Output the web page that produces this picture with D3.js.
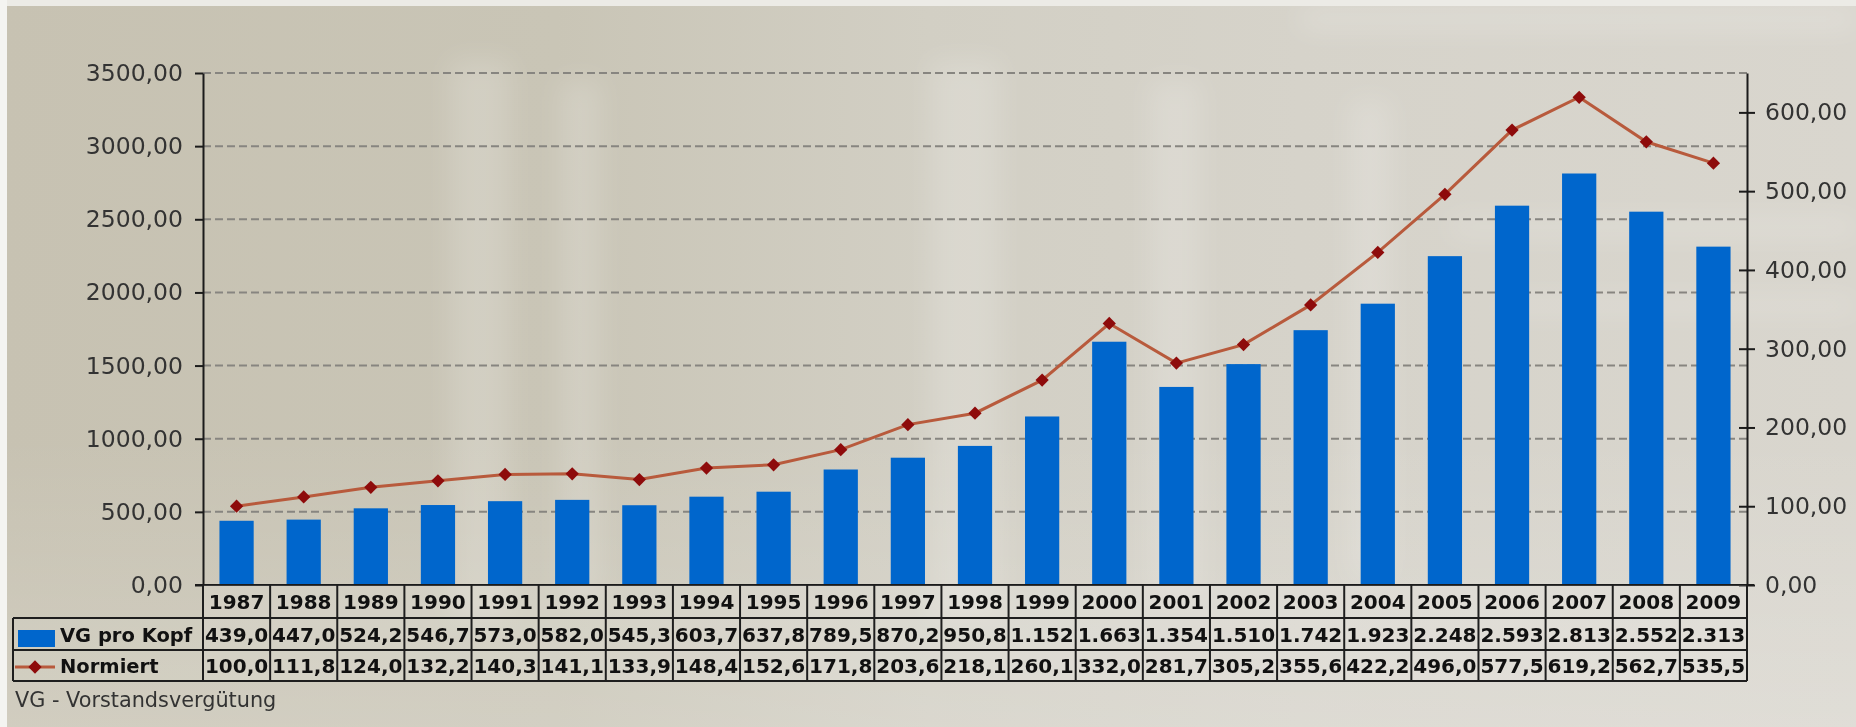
<!DOCTYPE html>
<html><head><meta charset="utf-8">
<script src="https://cdn.jsdelivr.net/npm/d3@7"></script>
<style>html,body{margin:0;padding:0;background:#cfcbbd;} svg{display:block;}</style>
</head><body><svg id="c" width="1856" height="727"></svg>
<script>
const years = ["1987","1988","1989","1990","1991","1992","1993","1994","1995","1996","1997","1998","1999","2000","2001","2002","2003","2004","2005","2006","2007","2008","2009"];
const vgProKopf = [439.0,447.0,524.2,546.7,573.0,582.0,545.3,603.7,637.8,789.5,870.2,950.8,1152,1663,1354,1510,1742,1923,2248,2593,2813,2552,2313];
const normiert = [100.0,111.8,124.0,132.2,140.3,141.1,133.9,148.4,152.6,171.8,203.6,218.1,260.1,332.0,281.7,305.2,355.6,422.2,496.0,577.5,619.2,562.7,535.5];
const leftTicks = [0,500,1000,1500,2000,2500,3000,3500];
const rightTicks = [0,100,200,300,400,500,600];
const leftMax = 3500, rightMax = 650;
const seriesNames = ["VG pro Kopf","Normiert"];
const footnote = "VG - Vorstandsvergütung";

const W = 1856, H = 727;
const x0 = 203, x1 = 1747, yTop = 73, yBase = 585;
const rowY = [585, 618, 650, 681];
const legendLeft = 13;

const loc = d3.formatLocale({decimal: ",", thousands: ".", grouping: [3], currency: ["", ""]});
const axisFmt = loc.format(".2f");
const valFmt = v => v >= 1000 ? loc.format(",.0f")(v) : loc.format(",.1f")(v);

const svg = d3.select("#c");
const defs = svg.append("defs");
const g1 = defs.append("linearGradient").attr("id","bg").attr("x1","0").attr("x2","1").attr("y1","0").attr("y2","0");
[["0%","#c7c2b2"],["30%","#c9c5b6"],["50%","#d2cfc4"],["70%","#d6d3ca"],["100%","#d9d6ce"]].forEach(s=>g1.append("stop").attr("offset",s[0]).attr("stop-color",s[1]));
const g2 = defs.append("linearGradient").attr("id","bgv").attr("x1","0").attr("x2","0").attr("y1","0").attr("y2","1");
[["0%","#ffffff",0.0],["60%","#ffffff",0.0],["100%","#ffffff",0.18]].forEach(s=>g2.append("stop").attr("offset",s[0]).attr("stop-color",s[1]).attr("stop-opacity",s[2]));
defs.append("filter").attr("id","blur").attr("x","-50%").attr("y","-50%").attr("width","200%").attr("height","200%")
  .append("feGaussianBlur").attr("stdDeviation", 14);

svg.append("rect").attr("width",W).attr("height",H).attr("fill","url(#bg)");
svg.append("rect").attr("width",W).attr("height",H).attr("fill","url(#bgv)");
const streaks = [[450,60,60,560],[560,80,40,520],[930,60,70,560],[1150,80,50,520],[1350,100,40,480]];
svg.append("g").attr("filter","url(#blur)").selectAll("rect").data(streaks).join("rect")
  .attr("x",d=>d[0]).attr("y",d=>d[1]).attr("width",d=>d[2]).attr("height",d=>d[3])
  .attr("fill","#ffffff").attr("opacity",0.18);
const hstreaks = [[1300,10,556,18],[1450,220,406,14],[1500,300,356,12]];
svg.append("g").attr("filter","url(#blur)").selectAll("rect").data(hstreaks).join("rect")
  .attr("x",d=>d[0]).attr("y",d=>d[1]).attr("width",d=>d[2]).attr("height",d=>d[3])
  .attr("fill","#ffffff").attr("opacity",0.25);
svg.append("rect").attr("x",0).attr("y",0).attr("width",W).attr("height",6).attr("fill","#ecebe6");
svg.append("rect").attr("x",0).attr("y",0).attr("width",7).attr("height",H).attr("fill","#f4f4f1");

const x = d3.scaleBand().domain(years).range([x0, x1]).paddingInner(0.49).paddingOuter(0.245);
const yL = d3.scaleLinear().domain([0, leftMax]).range([yBase, yTop]);
const yR = d3.scaleLinear().domain([0, rightMax]).range([yBase, yTop]);
const step = x.step();
const colLeft = d => x(d) - (step - x.bandwidth()) / 2;

svg.append("g").selectAll("line").data(leftTicks.filter(t => t > 0)).join("line")
  .attr("x1", x0).attr("x2", x1).attr("y1", d => yL(d)).attr("y2", d => yL(d))
  .attr("stroke", "#878580").attr("stroke-width", 2).attr("stroke-dasharray", "8,4");

svg.append("g").selectAll("rect").data(years).join("rect")
  .attr("x", d => x(d)).attr("width", x.bandwidth())
  .attr("y", (d, i) => yL(vgProKopf[i])).attr("height", (d, i) => yBase - yL(vgProKopf[i]))
  .attr("fill", "#0066cc");

const line = d3.line().x((d, i) => x(years[i]) + x.bandwidth() / 2).y(d => yR(d));
svg.append("path").datum(normiert).attr("d", line).attr("fill", "none")
  .attr("stroke", "#b85a3c").attr("stroke-width", 3);
const diamond = d3.symbol().type(d3.symbolSquare).size(88);
svg.append("g").selectAll("path").data(normiert).join("path")
  .attr("d", diamond)
  .attr("transform", (d, i) => `translate(${x(years[i]) + x.bandwidth() / 2},${yR(d)}) rotate(45)`)
  .attr("fill", "#8e0b0b");

const fontAxis = "'DejaVu Sans', Verdana, sans-serif";
const axL = svg.append("g").attr("transform", `translate(${x0},0)`)
  .call(d3.axisLeft(yL).tickValues(leftTicks).tickFormat(axisFmt).tickSize(8).tickSizeOuter(0).tickPadding(12));
const axR = svg.append("g").attr("transform", `translate(${x1},0)`)
  .call(d3.axisRight(yR).tickValues(rightTicks).tickFormat(axisFmt).tickSize(8).tickSizeOuter(0).tickPadding(10));
axR.selectAll(".tick line").attr("x1", -8);
[axL, axR].forEach(a => {
  a.select(".domain").attr("stroke", "#1b1b1b").attr("stroke-width", 2);
  a.selectAll(".tick line").attr("stroke", "#1b1b1b").attr("stroke-width", 2);
  a.selectAll(".tick text").attr("fill", "#333").style("font-family", fontAxis).style("font-size", "23.5px");
});
svg.append("line").attr("x1", x0 - 8).attr("x2", x1 + 7).attr("y1", yBase).attr("y2", yBase)
  .attr("stroke", "#1b1b1b").attr("stroke-width", 2);

const tbl = svg.append("g");
const tFont = "'DejaVu Sans', Verdana, sans-serif";
tbl.append("g").selectAll("rect").data(years).join("rect")
  .attr("x", d => colLeft(d)).attr("y", rowY[0]).attr("width", step).attr("height", rowY[3] - rowY[0])
  .attr("fill", "#ffffff").attr("opacity", 0.12);
tbl.append("rect").attr("x", legendLeft).attr("y", rowY[1]).attr("width", x0 - legendLeft).attr("height", rowY[3] - rowY[1])
  .attr("fill", "#ffffff").attr("opacity", 0.06);
const lineC = "#1e1e1e";
[rowY[1], rowY[2], rowY[3]].forEach(yy => {
  tbl.append("line").attr("x1", legendLeft).attr("x2", x1).attr("y1", yy).attr("y2", yy).attr("stroke", lineC).attr("stroke-width", 2);
});
tbl.append("g").selectAll("line").data(years.concat(["__end"])).join("line")
  .attr("x1", (d, i) => i < years.length ? colLeft(d) : colLeft(years[years.length - 1]) + step)
  .attr("x2", (d, i) => i < years.length ? colLeft(d) : colLeft(years[years.length - 1]) + step)
  .attr("y1", rowY[0]).attr("y2", rowY[3]).attr("stroke", lineC).attr("stroke-width", 2);
tbl.append("line").attr("x1", legendLeft).attr("x2", legendLeft).attr("y1", rowY[1]).attr("y2", rowY[3]).attr("stroke", lineC).attr("stroke-width", 2);

const cx = d => x(d) + x.bandwidth() / 2;
const tSize = "20px";
tbl.append("g").selectAll("text").data(years).join("text")
  .attr("x", cx).attr("y", 609).attr("text-anchor", "middle")
  .style("font-family", tFont).style("font-weight", "bold").style("font-size", tSize).attr("fill", "#111")
  .text(d => d);
tbl.append("g").selectAll("text").data(vgProKopf).join("text")
  .attr("x", (d, i) => cx(years[i])).attr("y", 642).attr("text-anchor", "middle")
  .style("font-family", tFont).style("font-weight", "bold").style("font-size", tSize).attr("fill", "#111")
  .text(valFmt);
tbl.append("g").selectAll("text").data(normiert).join("text")
  .attr("x", (d, i) => cx(years[i])).attr("y", 673).attr("text-anchor", "middle")
  .style("font-family", tFont).style("font-weight", "bold").style("font-size", tSize).attr("fill", "#111")
  .text(valFmt);

tbl.append("rect").attr("x", 18).attr("y", 630).attr("width", 37).attr("height", 17).attr("fill", "#0066cc");
tbl.append("line").attr("x1", 15).attr("x2", 55).attr("y1", 667).attr("y2", 667).attr("stroke", "#b85a3c").attr("stroke-width", 3);
tbl.append("path").attr("d", diamond).attr("transform", "translate(35,667) rotate(45)").attr("fill", "#8e0b0b");
tbl.selectAll("text.leg").data(seriesNames).join("text").attr("class", "leg")
  .attr("x", 60).attr("y", (d, i) => i === 0 ? 642 : 673)
  .style("font-family", tFont).style("font-weight", "bold").style("font-size", "19.5px").attr("fill", "#111")
  .text(d => d);

svg.append("text").attr("x", 15).attr("y", 707)
  .style("font-family", tFont).style("font-size", "20.8px").attr("fill", "#333")
  .text(footnote);
</script></body></html>
